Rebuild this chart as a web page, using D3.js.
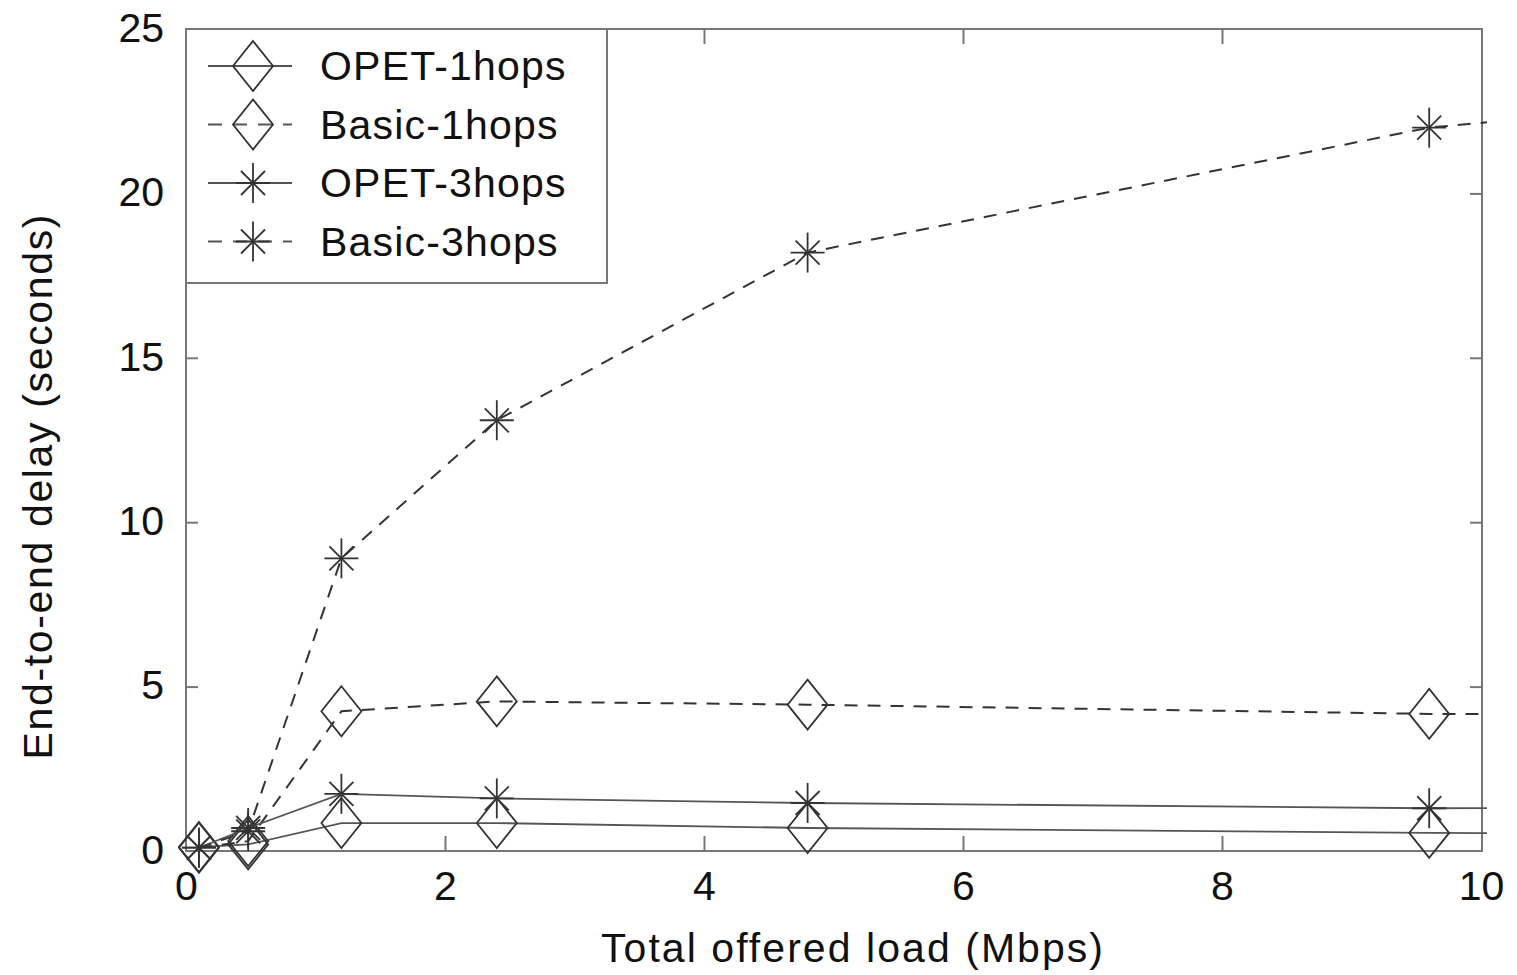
<!DOCTYPE html>
<html>
<head>
<meta charset="utf-8">
<script src="https://cdn.jsdelivr.net/npm/d3@7"></script>
<style>
  body { margin: 0; background: #fff; }
  text { font-family: "Liberation Sans", Arial, sans-serif; fill: #111; }
</style>
</head>
<body>
<svg id="chart" width="1517" height="975"></svg>
<script>
// offered load (Mbps); last point lies past the axis and gets clipped
const loads = [0.1, 0.48, 1.2, 2.4, 4.8, 9.6, 19.2];

const opet1hops  = [0.12, 0.2, 0.85, 0.85, 0.7, 0.55, 0.45];
const basic1hops = [0.1, 0.3, 4.25, 4.55, 4.45, 4.17, 4.1];
const opet3hops  = [0.1, 0.7, 1.74, 1.6, 1.46, 1.3, 1.4];
const basic3hops = [0.1, 0.6, 8.9, 13.1, 18.2, 22.0, 25.5];

const seriesNames = ["OPET-1hops", "Basic-1hops", "OPET-3hops", "Basic-3hops"];
const seriesValues = [opet1hops, basic1hops, opet3hops, basic3hops];
const seriesMarker = ["diamond", "diamond", "star", "star"];
const seriesDashed = [false, true, false, true];

const xTicks = [0, 2, 4, 6, 8, 10];
const yTicks = [0, 5, 10, 15, 20, 25];

/* plot frame */
let frame = { left: 186, right: 1482, top: 29, bottom: 851 };

let svg = d3.select("svg#chart");

let xScale = d3.scaleLinear().domain([0, 10]).range([frame.left, frame.right - 1]);
let yScale = d3.scaleLinear().domain([0, 25]).range([frame.bottom, frame.top]);

svg.append("defs").append("clipPath").attr("id", "plotClip")
    .append("rect")
    .attr("x", frame.left).attr("y", 0)
    .attr("width", frame.right - frame.left + 5).attr("height", frame.bottom + 10);

/* axes with mirrored inward ticks */
let axisBottom = d3.axisBottom(xScale).tickValues(xTicks).tickSize(-15).tickPadding(20);
let axisTop = d3.axisTop(xScale).tickValues(xTicks).tickSize(-15).tickFormat("");
let axisLeft = d3.axisLeft(yScale).tickValues(yTicks).tickSize(-12).tickPadding(22);
let axisRight = d3.axisRight(yScale).tickValues(yTicks).tickSize(-12).tickFormat("");

let gB = svg.append("g").attr("transform", "translate(0," + frame.bottom + ")").call(axisBottom);
let gT = svg.append("g").attr("transform", "translate(0," + frame.top + ")").call(axisTop);
let gL = svg.append("g").attr("transform", "translate(" + frame.left + ",0)").call(axisLeft);
let gR = svg.append("g").attr("transform", "translate(" + frame.right + ",0)").call(axisRight);

[gB, gT, gL, gR].forEach(g => {
    g.select("path.domain").remove();
    g.selectAll(".tick line").attr("stroke", "#777").attr("stroke-width", 2);
    g.selectAll(".tick text").style("font-size", "41px").attr("fill", "#111");
});
// drop ticks that sit on the frame corners
gB.selectAll(".tick").filter(d => d === 0 || d === 10).select("line").remove();
gT.selectAll(".tick").filter(d => d === 0 || d === 10).select("line").remove();
gL.selectAll(".tick").filter(d => d === 0 || d === 25).select("line").remove();
gR.selectAll(".tick").filter(d => d === 0 || d === 25).select("line").remove();
gL.selectAll(".tick text").attr("dy", "0.3em");

svg.append("rect")
    .attr("x", frame.left).attr("y", frame.top)
    .attr("width", frame.right - frame.left).attr("height", frame.bottom - frame.top)
    .attr("fill", "none").attr("stroke", "#777").attr("stroke-width", 2);

/* axis titles */
svg.append("text")
    .attr("x", 852).attr("y", 962)
    .attr("text-anchor", "middle")
    .attr("textLength", 502).attr("lengthAdjust", "spacing")
    .style("font-size", "41px")
    .text("Total offered load (Mbps)");
svg.append("text")
    .attr("transform", "translate(52,487) rotate(-90)")
    .attr("text-anchor", "middle")
    .attr("textLength", 545).attr("lengthAdjust", "spacing")
    .style("font-size", "41px")
    .text("End-to-end delay (seconds)");

/* marker drawing */
function drawMarker(g, kind, cx, cy) {
    if (kind === "diamond") {
        g.append("path")
            .attr("d", "M" + cx + "," + (cy - 25) + "L" + (cx + 20) + "," + cy +
                "L" + cx + "," + (cy + 25) + "L" + (cx - 20) + "," + cy + "Z")
            .attr("fill", "none").attr("stroke", "#333").attr("stroke-width", 1.8);
    } else {
        let arms = [[0, 20], [17, 0], [12, 12], [12, -12]];
        arms.forEach(a => {
            g.append("line")
                .attr("x1", cx - a[0]).attr("y1", cy - a[1])
                .attr("x2", cx + a[0]).attr("y2", cy + a[1])
                .attr("stroke", "#333").attr("stroke-width", 1.8);
        });
    }
}

/* data lines and markers */
let plot = svg.append("g");
seriesValues.forEach((vals, i) => {
    let pts = loads.map((x, j) => [x, vals[j]]);
    let line = d3.line().x(d => xScale(d[0])).y(d => yScale(d[1]));
    plot.append("path")
        .datum(pts)
        .attr("d", line)
        .attr("clip-path", "url(#plotClip)")
        .attr("fill", "none")
        .attr("stroke", seriesDashed[i] ? "#333" : "#555")
        .attr("stroke-width", seriesDashed[i] ? 2 : 1.8)
        .attr("stroke-dasharray", seriesDashed[i] ? "13,10" : null);
    pts.filter(d => d[0] <= 10).forEach(d => {
        drawMarker(plot, seriesMarker[i], xScale(d[0]), yScale(d[1]));
    });
});

/* legend */
let legend = svg.append("g");
legend.append("rect")
    .attr("x", frame.left).attr("y", frame.top)
    .attr("width", 421).attr("height", 254)
    .attr("fill", "#fff").attr("stroke", "#777").attr("stroke-width", 2);
seriesNames.forEach((name, i) => {
    let cy = 66 + i * 58.5;
    legend.append("line")
        .attr("x1", 208).attr("x2", 292).attr("y1", cy).attr("y2", cy)
        .attr("stroke", "#555")
        .attr("stroke-width", 1.8)
        .attr("stroke-dasharray", seriesDashed[i] ? "14,11" : null);
    drawMarker(legend, seriesMarker[i], 253, cy);
    legend.append("text")
        .attr("x", 320).attr("y", cy + 14)
        .style("font-size", "41px")
        .style("letter-spacing", "1.2px")
        .text(name);
});
</script>
</body>
</html>
